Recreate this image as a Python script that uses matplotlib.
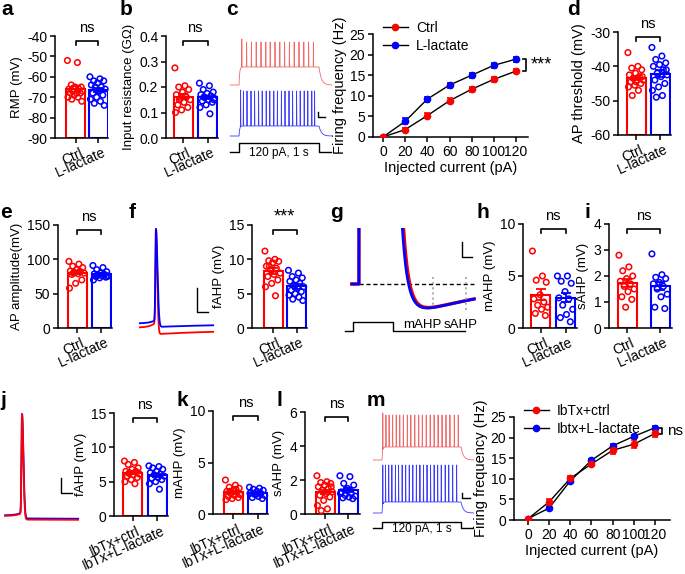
import numpy as np
import matplotlib
matplotlib.use("Agg")
import matplotlib.pyplot as plt
from matplotlib.lines import Line2D
from matplotlib.transforms import blended_transform_factory, ScaledTranslation

plt.rcParams['font.family'] = ['Liberation Sans', 'DejaVu Sans']
plt.rcParams['font.size'] = 10
plt.rcParams['axes.unicode_minus'] = False
plt.rcParams['axes.linewidth'] = 1.1
plt.rcParams['xtick.major.width'] = 1.1
plt.rcParams['ytick.major.width'] = 1.1
plt.rcParams['xtick.major.size'] = 3.5
plt.rcParams['ytick.major.size'] = 3.5
plt.rcParams['xtick.major.pad'] = 2
plt.rcParams['ytick.major.pad'] = 2

W, H = 685, 574
red = '#ff0000'
blue = '#0000ff'
red_trace = '#f06a6a'
blue_trace = '#3c3cff'

names = ["Ctrl", "L-lactate"]
names_ibtx = ["IbTx+ctrl", "IbTx+L-lactate"]

# bar panel data (individual cells)
rmp_ctrl = [-52, -53, -64, -65, -65, -66, -66, -67, -67, -68, -68, -68, -69, -70, -70, -71, -72]
rmp_lact = [-60, -61, -62, -62, -63, -64, -65, -65, -66, -67, -68, -69, -70, -71, -72, -73, -74, -67]
rin_ctrl = [0.275, 0.205, 0.20, 0.19, 0.18, 0.17, 0.16, 0.155, 0.15, 0.14, 0.13, 0.12, 0.11, 0.10, 0.165, 0.15]
rin_lact = [0.215, 0.205, 0.19, 0.18, 0.175, 0.17, 0.165, 0.16, 0.155, 0.15, 0.145, 0.14, 0.13, 0.12, 0.095, 0.16, 0.15]
thr_ctrl = [-36, -40, -40.5, -41, -42, -42.5, -43, -43.5, -44, -44, -44.5, -45, -45.5, -46, -47, -48.5, -43, -44.5]
thr_lact = [-34.5, -37, -38, -39, -39.5, -40, -41, -42, -42.5, -43, -44, -45, -46, -47, -48.5, -49, -41]
amp_ctrl = [97, 93, 90, 88, 85, 83, 82, 81, 80, 79, 78, 70, 65, 58, 82, 80]
amp_lact = [91, 88, 85, 82, 80, 79, 78, 77, 76, 76, 75, 74, 73, 70, 78, 77, 75]
fahp_ctrl = [11.2, 10, 9.8, 9.7, 9.5, 9, 8.7, 8.5, 8, 7.8, 7.5, 7, 6.5, 6, 4.7, 9]
fahp_lact = [8.4, 8, 7.5, 7.3, 7, 6.8, 6.5, 6.2, 6, 5.8, 5.5, 5.3, 5, 4.8, 4.5, 4.2, 4.0]
mahp_ctrl = [7.4, 5.0, 4.6, 4.4, 3.2, 2.8, 2.5, 2.2, 2.0, 1.8, 1.4, 1.2]
mahp_lact = [5.0, 5.0, 4.5, 4.3, 3.5, 2.9, 2.8, 2.2, 1.8, 1.3, 1.0, 0.6]
sahp_ctrl = [2.8, 2.35, 2.2, 2.0, 1.9, 1.8, 1.7, 1.6, 1.5, 1.4, 1.2, 1.1, 0.8]
sahp_lact = [2.85, 2.05, 1.95, 1.9, 1.75, 1.7, 1.6, 1.5, 1.3, 1.2, 0.8, 0.75]
fahp_ib_ctrl = [8.0, 7.8, 7.5, 7.0, 6.8, 6.5, 6.5, 6.3, 6.1, 6.0, 5.8, 5.6, 5.3, 5.0, 4.7, 6.2]
fahp_ib_lact = [7.3, 7.2, 7.0, 6.8, 6.5, 6.3, 6.1, 6.0, 5.8, 5.6, 5.5, 5.3, 5.0, 4.7, 3.9]
mahp_ib_ctrl = [3.3, 2.8, 2.6, 2.5, 2.3, 2.2, 2.1, 2.0, 1.9, 1.8, 1.7, 1.6, 1.5, 1.4, 2.4, 2.2, 1.9]
mahp_ib_lact = [2.6, 2.5, 2.4, 2.3, 2.2, 2.1, 2.0, 1.9, 1.8, 1.7, 1.6, 1.5, 1.9, 2.0]
sahp_ib_ctrl = [2.25, 1.9, 1.85, 1.8, 1.7, 1.6, 1.5, 1.4, 1.3, 1.2, 1.1, 1.0, 0.8, 0.5, 0.3, 0.2, 1.6]
sahp_ib_lact = [2.25, 2.2, 1.8, 1.7, 1.5, 1.3, 1.2, 1.1, 1.05, 1.0, 0.95, 0.9, 1.4, 1.2]

# firing frequency vs injected current
current = [0, 20, 40, 60, 80, 100, 120]
freq_ctrl = [0, 1.8, 5.2, 8.8, 11.6, 14.0, 16.0]
freq_ctrl_err = [0.1, 0.4, 0.6, 0.6, 0.6, 0.6, 0.5]
freq_lact = [0, 3.8, 9.2, 12.6, 15.0, 17.4, 18.9]
freq_lact_err = [0.1, 0.7, 0.6, 0.6, 0.6, 0.6, 0.6]
freq_ib_ctrl = [0.3, 4.4, 10.1, 13.6, 16.9, 18.4, 21.0]
freq_ib_ctrl_err = [0.2, 0.8, 0.7, 0.6, 0.8, 1.0, 0.8]
freq_ib_lact = [0.3, 2.9, 9.5, 14.5, 18.0, 20.3, 22.4]
freq_ib_lact_err = [0.1, 0.3, 0.5, 0.4, 0.4, 0.4, 0.5]

# spike times (s) of the example traces, step 0..1 s
c_red_spikes = [0.035, 0.095, 0.155, 0.215, 0.275, 0.335, 0.39, 0.45, 0.51, 0.57, 0.63, 0.69, 0.75, 0.81, 0.87, 0.93]
c_blue_spikes = [0.02, 0.055, 0.10, 0.15, 0.195, 0.245, 0.29, 0.34, 0.385, 0.435, 0.48, 0.53, 0.575,
                 0.625, 0.67, 0.72, 0.765, 0.815, 0.86, 0.91, 0.945]
m_red_spikes = [0.01, 0.05, 0.09, 0.135, 0.18, 0.225, 0.27, 0.32, 0.365, 0.415, 0.465, 0.51, 0.56,
                0.61, 0.66, 0.71, 0.76, 0.81, 0.86, 0.915, 0.965]
m_blue_spikes = [0.01, 0.045, 0.085, 0.125, 0.17, 0.21, 0.255, 0.3, 0.345, 0.39, 0.435, 0.48, 0.525,
                 0.57, 0.615, 0.66, 0.705, 0.75, 0.8, 0.845, 0.895, 0.945]

fig = plt.figure(figsize=(W / 100, H / 100), dpi=100)


def px_axes(left, top, right, bottom):
    return fig.add_axes([left / W, 1 - bottom / H, (right - left) / W, (bottom - top) / H])


def blank(ax):
    ax.set_axis_off()


def bar_panel(box, centers, ctrl, lact, ylim, yticks, ylabel, sig, labels, sigsize=10.5,
              labelsize=9.5):
    left, top, right, bottom = box
    c1, c2 = centers
    unit = c2 - c1
    ax = px_axes(left, top, right, bottom)
    width = 19.0 / unit
    for i, (vals, col) in enumerate([(ctrl, red), (lact, blue)]):
        vals = np.asarray(vals, dtype=float)
        m = vals.mean()
        sem = vals.std(ddof=1) / np.sqrt(len(vals))
        ax.bar(i, m - ylim[0], bottom=ylim[0], width=width, facecolor='white',
               edgecolor=col, linewidth=1.5, zorder=1)
        ax.errorbar(i, m, yerr=sem, color=col, capsize=3.5, lw=1.3, capthick=1.3, zorder=3)
        n = len(vals)
        offs = ((np.arange(n) * 0.618) % 1 - 0.5) * width * 0.85
        ax.scatter(i + offs, vals, s=16, facecolor='none', edgecolor=col, linewidth=1.1,
                   zorder=4, clip_on=False)
    ax.set_xlim((left - c1) / unit, (right - c1) / unit)
    ax.set_ylim(*ylim)
    ax.set_yticks(yticks)
    ax.set_xticks([0, 1])
    ax.set_xticklabels(labels, rotation=24, ha='right', rotation_mode='anchor')
    shift = ScaledTranslation(4 / 100, 0, fig.dpi_scale_trans)
    for lab in ax.get_xticklabels():
        lab.set_transform(lab.get_transform() + shift)
    ax.spines['top'].set_visible(False)
    ax.spines['right'].set_visible(False)
    ax.set_ylabel(ylabel, labelpad=3, fontsize=labelsize)
    tr = blended_transform_factory(ax.transData, ax.transAxes)
    ax.plot([0, 0, 1, 1], [0.915, 0.955, 0.955, 0.915], color='black', lw=1.2,
            transform=tr, clip_on=False)
    ax.text(0.5, 1.075, sig, transform=tr, ha='center', va='center', fontsize=sigsize)
    return ax


def spike_train(t, spikes, v_rest, v_trough, v_peak, first_peak):
    on = 1 - np.exp(-np.clip(t, 0, None) / 0.008)
    off = np.exp(-np.clip(t - 1.0, 0, None) / 0.03)
    base = v_rest + (v_trough - v_rest) * on * off
    v = base.copy()
    for k, ts in enumerate(spikes):
        pk = first_peak if k == 0 else v_peak
        v += (pk - base) * np.exp(-((t - ts) / 0.0015) ** 2)
    return v


def ap_trace(t, v_rest, v_th, v_peak, v_trough, v_end, w_up, w_down, tau_pre, tau_rec):
    base = np.where(t < 0, v_rest + (v_th - v_rest) * np.exp(np.minimum(t, 0) / tau_pre),
                    v_end + (v_trough - v_end) * np.exp(-np.maximum(t, 0) / tau_rec))
    w = np.where(t < 0, w_up, w_down)
    return base + (v_peak - base) * np.exp(-(t / w) ** 2)


def scale_bar(ax, x0, y0, x1, y1):
    ax.plot([x0, x0, x1], [y1, y0, y0], color='black', lw=1.0, clip_on=False)


def step_line(ax, t0, t1, low, high, label):
    ax.plot([t0, 0, 0, 1, 1, t1], [low, low, high, high, low, low], color='black', lw=1.0)
    ax.text(0.5, low - 2, label, ha='center', va='center', fontsize=8.5)


def train_panel(box, tlim, vlim, red_spikes, blue_spikes, red_pars, blue_pars, blue_offset,
                stim, bar):
    ax = px_axes(*box)
    blank(ax)
    t = np.arange(-0.11, 1.16, 0.0002)
    ax.plot(t, spike_train(t, red_spikes, *red_pars), color=red_trace, lw=0.6)
    ax.plot(t, spike_train(t, blue_spikes, *blue_pars) + blue_offset, color=blue_trace, lw=0.6)
    step_line(ax, -0.11, 1.15, stim[0], stim[1], "120 pA, 1 s")
    scale_bar(ax, *bar)
    ax.set_xlim(*tlim)
    ax.set_ylim(*vlim)
    return ax


def fi_panel(box, xlim, ctrl, ctrl_err, lact, lact_err, leg_names, sig, bx, by, sx):
    ax = px_axes(*box)
    for y, e, col in [(lact, lact_err, blue), (ctrl, ctrl_err, red)]:
        ax.plot(current, y, color='black', lw=1.0, zorder=2)
        ax.errorbar(current, y, yerr=e, fmt='o', color=col, ms=4.5, capsize=2.5, lw=1.2,
                    capthick=1.2, zorder=3)
    ax.set_xlim(*xlim)
    ax.set_ylim(0, 25)
    ax.set_xticks(current)
    ax.set_yticks([0, 5, 10, 15, 20, 25])
    ax.spines['top'].set_visible(False)
    ax.spines['right'].set_visible(False)
    ax.set_xlabel("Injected current (pA)", fontsize=10.5, labelpad=2)
    ax.set_ylabel("Firing frequency (Hz)", fontsize=10.5, labelpad=2)
    ax.tick_params(labelsize=10)
    handles = [Line2D([], [], color='black', lw=1.0, marker='o', ms=4.5, mfc=red, mec=red),
               Line2D([], [], color='black', lw=1.0, marker='o', ms=4.5, mfc=blue, mec=blue)]
    ax.legend(handles, leg_names, loc='upper left', bbox_to_anchor=(0.0, 1.22), frameon=False,
              fontsize=10, handlelength=1.8, handletextpad=0.6, labelspacing=0.3,
              borderpad=0.2)
    ax.plot([bx - 2.5, bx, bx, bx - 2.5], [by[0], by[0], by[1], by[1]], color='black', lw=1.2,
            clip_on=False)
    ax.text(sx, np.mean(by), sig, ha='left', va='center', fontsize=11 if sig == 'ns' else 13,
            clip_on=False)
    return ax


# ---------- row 1 ----------
bar_panel((55, 36, 108, 138), (75.5, 98), rmp_ctrl, rmp_lact, (-90, -40),
          [-90, -80, -70, -60, -50, -40], "RMP (mV)", "ns", names)
bar_panel((166, 36, 218, 138), (183, 207.5), rin_ctrl, rin_lact, (0, 0.4),
          [0.0, 0.1, 0.2, 0.3, 0.4], "Input resistance (G\u03a9)", "ns", names)

train_panel((225, 30, 335, 160), ((225 - 239) / 80, (335 - 239) / 80), (-215, 45),
            c_red_spikes, c_blue_spikes, (-65, -29, 21, 27), (-65, -45, 25, 27), -102,
            (-199, -181), (0.99, -129, 1.08, -119))

fi_panel((373, 34, 528, 137), (-9.0, 130.8), freq_ctrl, freq_ctrl_err, freq_lact, freq_lact_err,
         ["Ctrl", "L-lactate"], "***", 129, (16.0, 18.9), 133)

bar_panel((618, 32, 671, 135), (636, 660), thr_ctrl, thr_lact, (-60, -30),
          [-60, -50, -40, -30], "AP threshold (mV)", "ns", names, labelsize=10.5)

# ---------- row 2 ----------
bar_panel((58, 225, 112, 328), (77, 101), amp_ctrl, amp_lact, (0, 150),
          [0, 50, 100, 150], "AP amplitude(mV)", "ns", names)

ax_f = px_axes(135, 222, 215, 340)
blank(ax_f)
tf = np.arange(-7.3, 26, 0.02)
ax_f.plot(tf, ap_trace(tf, -60.5, -56, 21.7, -66, -62.5, 0.35, 0.8, 2.5, 30), color=red, lw=1.3)
ax_f.plot(tf, ap_trace(tf, -57, -54, 21.7, -60, -57.5, 0.35, 1.0, 2.5, 30), color=blue, lw=1.3)
scale_bar(ax_f, 18.6, -47.5, 23.6, -27.5)
ax_f.set_xlim(-9.5, 26.8)
ax_f.set_ylim(-70.8, 27.5)

bar_panel((252, 225, 307, 328), (273, 296.5), fahp_ctrl, fahp_lact, (0, 15),
          [0, 5, 10, 15], "fAHP (mV)", "***", names, sigsize=13)

ax_g = px_axes(340, 228, 480, 340)
blank(ax_g)
tg = np.arange(-0.03, 3.03, 0.002)


def ahp_trace(t, t_spike, t_back, amp_dec, tau_dec, depth, tau_r, tau_d):
    s = np.maximum(t - t_back, 0)
    tail = amp_dec * np.exp(-s / tau_dec) - depth * (np.exp(-s / tau_d) - np.exp(-s / tau_r))
    return np.where(t < t_spike, 0.0, np.where(t < t_back, 30.0, tail))


ax_g.plot([-0.03, 3.03], [0, 0], color='black', lw=1.0, ls=(0, (3, 2)), zorder=1)
ax_g.plot(tg, ahp_trace(tg, 0.15, 1.23, 10, 0.12, 4.6, 0.25, 2.0), color=red, lw=2.4, zorder=2)
ax_g.plot(tg, ahp_trace(tg, 0.15, 1.2, 10, 0.12, 4.7, 0.25, 2.0), color=blue, lw=2.0, zorder=3)
ax_g.plot([2.0, 2.0], [0.9, -2.6], color='#aaaaaa', lw=1.4, ls=':', zorder=4)
ax_g.plot([2.83, 2.83], [0.9, -3.3], color='#aaaaaa', lw=1.4, ls=':', zorder=4)
ax_g.plot([-0.2, 0, 0, 1, 1, 2.8], [-5.9, -5.9, -4.75, -4.75, -5.9, -5.9], color='black', lw=1.0,
          clip_on=False)
ax_g.text(1.73, -5.1, "mAHP", ha='center', va='center', fontsize=9.5)
ax_g.text(2.68, -5.1, "sAHP", ha='center', va='center', fontsize=9.5)
scale_bar(ax_g, 2.73, 3.4, 2.98, 5.25)
ax_g.set_xlim((340 - 353) / 40, (480 - 353) / 40)
ax_g.set_ylim(-7, 7)

bar_panel((523, 224, 577, 328), (540.5, 565.5), mahp_ctrl, mahp_lact, (0, 10),
          [0, 5, 10], "mAHP (mV)", "ns", names)
bar_panel((609, 224, 672, 328), (627, 660), sahp_ctrl, sahp_lact, (0, 4),
          [0, 1, 2, 3, 4], "sAHP (mV)", "ns", names)

# ---------- row 3 ----------
ax_j = px_axes(0, 405, 85, 525)
blank(ax_j)
tj = np.arange(-7.7, 25.5, 0.02)
ax_j.plot(tj, ap_trace(tj, -59.5, -57, 25, -62, -62.5, 0.35, 0.9, 2.5, 30), color=blue, lw=1.3)
ax_j.plot(tj, ap_trace(tj, -60, -57.5, 25, -63, -63.3, 0.35, 0.85, 2.5, 30), color=red, lw=1.3)
scale_bar(ax_j, 17.7, -40.8, 22.7, -28.3)
ax_j.set_xlim(-10, 28.6)
ax_j.set_ylim(-67.5, 32.5)

bar_panel((114, 413, 168, 516), (132.5, 157), fahp_ib_ctrl, fahp_ib_lact, (0, 15),
          [0, 5, 10, 15], "fAHP (mV)", "ns", names_ibtx)
bar_panel((213, 411, 268, 514), (233.5, 257.5), mahp_ib_ctrl, mahp_ib_lact, (0, 10),
          [0, 5, 10], "mAHP (mV)", "ns", names_ibtx)
bar_panel((305, 412, 360, 514), (325, 348), sahp_ib_ctrl, sahp_ib_lact, (0, 6),
          [0, 2, 4, 6], "sAHP (mV)", "ns", names_ibtx)

train_panel((368, 405, 476, 540), ((368 - 382) / 79, (476 - 382) / 79), (-225, 45),
            m_red_spikes, m_blue_spikes, (-65, -39, 25, 29), (-65, -43, 31, 31), -106,
            (-201, -189), (1.01, -141, 1.11, -131))

fi_panel((514, 417, 670, 520), (-13.2, 134.2), freq_ib_ctrl, freq_ib_ctrl_err, freq_ib_lact,
         freq_ib_lact_err, ["IbTx+ctrl", "Ibtx+L-lactate"], "ns", 126.7, (20.8, 22.4), 131)

# panel letters
letters = [("a", 1, 0), ("b", 120, 0), ("c", 226, 0), ("d", 567, 0),
           ("e", 0, 203), ("f", 129, 203), ("g", 330, 203), ("h", 477, 203), ("i", 585, 203),
           ("j", 0, 391), ("k", 177, 391), ("l", 277, 391), ("m", 367, 391)]
for s, x, y in letters:
    fig.text(x / W, 1 - y / H, s, ha='left', va='top', fontsize=15, fontweight='bold')

fig.savefig("out.png", dpi=100)
